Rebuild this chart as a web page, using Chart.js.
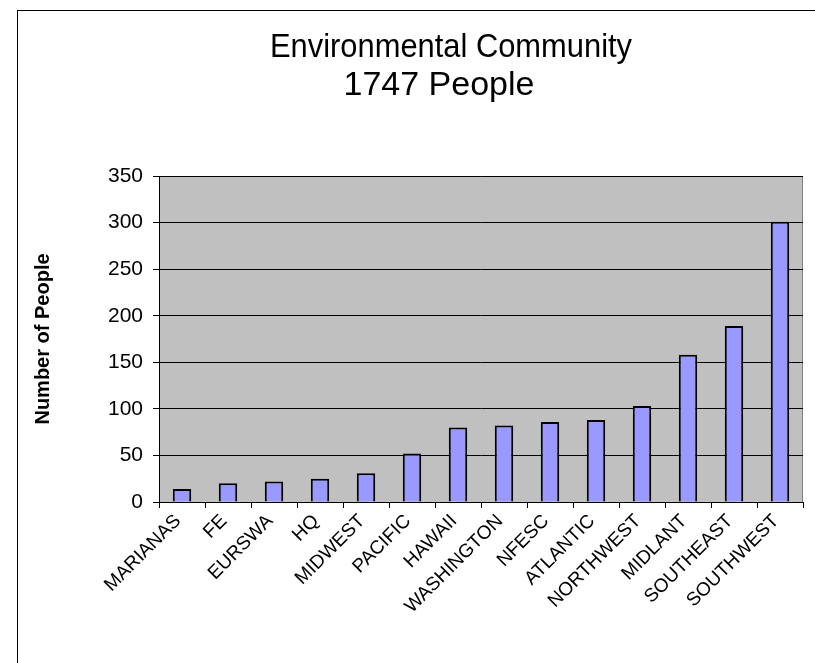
<!DOCTYPE html>
<html>
<head>
<meta charset="utf-8">
<script src="https://cdn.jsdelivr.net/npm/chart.js@4/dist/chart.umd.min.js"></script>
<style>
  html, body { margin: 0; padding: 0; background: #fff; }
  #wrap { position: relative; width: 815px; height: 663px; overflow: hidden; }
  #frame { position: absolute; left: 17px; top: 10px; width: 900px; height: 800px; border: 1px solid #000; }
  canvas { position: absolute; left: 0; top: 0; }
</style>
</head>
<body>
<div id="wrap">
  <div id="frame"></div>
  <canvas id="chBar" width="815" height="663"></canvas>
</div>
<script>
// Data
const regions = ["MARIANAS", "FE", "EURSWA", "HQ", "MIDWEST", "PACIFIC", "HAWAII",
  "WASHINGTON", "NFESC", "ATLANTIC", "NORTHWEST", "MIDLANT", "SOUTHEAST", "SOUTHWEST"];
const people = [14, 20, 22, 25, 31, 52, 80, 82, 86, 88, 103, 158, 189, 301];
const titleLines = ["Environmental Community", "1747 People"];
const yTitle = "Number of People";

// gray plot background + frame round the plot area
const plotBg = {
  id: "plotBg",
  beforeDraw: function (chart) {
    var a = chart.chartArea, ctx = chart.ctx;
    ctx.save();
    ctx.fillStyle = "#C0C0C0";
    ctx.fillRect(a.left, a.top, a.right - a.left, a.bottom - a.top);
    ctx.strokeStyle = "#808080";
    ctx.lineWidth = 1;
    ctx.strokeRect(a.left + 0.5, a.top + 0.5, a.right - a.left - 1, a.bottom - a.top);
    ctx.restore();
  }
};

// two-line title, the first line is a little condensed like the original
const chartTitle = {
  id: "chartTitle",
  afterDraw: function (chart) {
    var ctx = chart.ctx;
    ctx.save();
    ctx.fillStyle = "#000";
    ctx.textAlign = "center";
    ctx.textBaseline = "alphabetic";
    ctx.font = "34px 'Liberation Sans', Arial, sans-serif";
    ctx.fillText(titleLines[0], 451, 57, 362);
    ctx.fillText(titleLines[1], 439, 95);
    ctx.restore();
  }
};

Chart.defaults.font.family = "'Liberation Sans', Arial, sans-serif";
Chart.defaults.color = "#000";

const config = {
  type: "bar",
  data: {
    labels: regions,
    datasets: [{
      data: people,
      backgroundColor: "#9999FF",
      borderColor: "#000",
      borderWidth: 2,
      barPercentage: 0.4,
      categoryPercentage: 1.0
    }]
  },
  options: {
    responsive: false,
    animation: false,
    layout: { padding: { left: 31, right: 12, top: 176, bottom: 0 } },
    plugins: {
      legend: { display: false },
      tooltip: { enabled: false },
      title: { display: false }
    },
    scales: {
      x: {
        grid: { drawOnChartArea: false, drawTicks: true, tickLength: 6, color: "#000", offset: true },
        border: { color: "#000", width: 1 },
        ticks: { font: { size: 19 }, minRotation: 45, maxRotation: 45, autoSkip: false, padding: 2, labelOffset: -4 },
        afterFit: function (s) { s.height = 161; }
      },
      y: {
        min: 0,
        max: 350,
        ticks: { stepSize: 50, font: { size: 21 }, padding: 10 },
        grid: { color: "#000", tickLength: 6, lineWidth: 1 },
        border: { color: "#000", width: 1 },
        title: { display: true, text: yTitle, font: { size: 20, weight: "bold" }, padding: { top: 0, bottom: 0 } },
        afterFit: function (s) { s.width = 128; }
      }
    }
  },
  plugins: [plotBg, chartTitle]
};

var myChart = new Chart(document.getElementById("chBar"), config);
</script>
</body>
</html>
